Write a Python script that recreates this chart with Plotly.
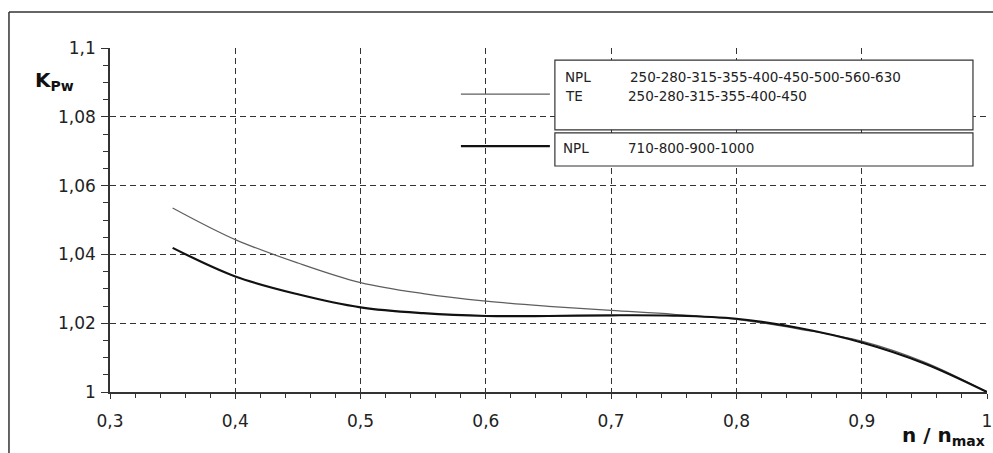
import plotly.graph_objects as go

# ---- data ----
n_ratio = [0.35, 0.40, 0.45, 0.50, 0.55, 0.60, 0.65, 0.70, 0.75, 0.80, 0.85, 0.90, 0.95, 1.00]
k_small = [1.0535, 1.0443, 1.0375, 1.0318, 1.0286, 1.0264, 1.0249, 1.0237, 1.0226, 1.0211, 1.0183, 1.0148, 1.0087, 1.0]
k_large = [1.0419, 1.0336, 1.0284, 1.0246, 1.0229, 1.0221, 1.0221, 1.0223, 1.0222, 1.0213, 1.0186, 1.0144, 1.0083, 1.0]

x_tickvals = [0.3, 0.4, 0.5, 0.6, 0.7, 0.8, 0.9, 1.0]
x_ticktext = ["0,3", "0,4", "0,5", "0,6", "0,7", "0,8", "0,9", "1"]
y_tickvals = [1.0, 1.02, 1.04, 1.06, 1.08, 1.1]
y_ticktext = ["1", "1,02", "1,04", "1,06", "1,08", "1,1"]

legend_small_type = ["NPL", "TE"]
legend_small_sizes = ["250-280-315-355-400-450-500-560-630", "250-280-315-355-400-450"]
legend_large_type = ["NPL"]
legend_large_sizes = ["710-800-900-1000"]

FONT = "DejaVu Sans"

fig = go.Figure()
fig.add_trace(go.Scatter(x=n_ratio, y=k_small, mode="lines",
                         line=dict(color="#5e5e5e", width=1.2, shape="spline", smoothing=1.0),
                         showlegend=False, hoverinfo="skip"))
fig.add_trace(go.Scatter(x=n_ratio, y=k_large, mode="lines",
                         line=dict(color="#111111", width=2.2, shape="spline", smoothing=1.0),
                         showlegend=False, hoverinfo="skip"))

shapes = []
# outer frame (left and top)
shapes.append(dict(type="line", xref="paper", yref="paper", x0=-0.1152, x1=-0.1152, y0=1.1047, y1=-0.2,
                   line=dict(color="#333", width=1.5)))
shapes.append(dict(type="line", xref="paper", yref="paper", x0=-0.1152, x1=1.02, y0=1.1047, y1=1.1047,
                   line=dict(color="#333", width=1.5)))
# legend boxes
shapes.append(dict(type="rect", xref="x", yref="y", x0=0.6551, x1=0.9888, y0=1.0762, y1=1.0965,
                   line=dict(color="#333", width=1.2), fillcolor="white", layer="above"))
shapes.append(dict(type="rect", xref="x", yref="y", x0=0.6551, x1=0.9888, y0=1.0657, y1=1.0753,
                   line=dict(color="#333", width=1.2), fillcolor="white", layer="above"))
# legend sample lines
shapes.append(dict(type="line", xref="x", yref="y", x0=0.5801, x1=0.6511, y0=1.0866, y1=1.0866,
                   line=dict(color="#5e5e5e", width=1.2)))
shapes.append(dict(type="line", xref="x", yref="y", x0=0.5801, x1=0.6511, y0=1.0715, y1=1.0715,
                   line=dict(color="#111111", width=2.2)))

annotations = []
leg_font = dict(family=FONT, size=13.5, color="#222")
for i, (t, s) in enumerate(zip(legend_small_type, legend_small_sizes)):
    yy = [1.0916, 1.0860][i]
    annotations.append(dict(x=0.6615, y=yy, xref="x", yref="y", text=t, showarrow=False,
                            xanchor="left", yanchor="middle", font=leg_font))
    annotations.append(dict(x=0.7134 - 0.0016 * i, y=yy, xref="x", yref="y", text=s, showarrow=False,
                            xanchor="left", yanchor="middle", font=leg_font))
for t, s in zip(legend_large_type, legend_large_sizes):
    annotations.append(dict(x=0.6615 - 0.0016, y=1.0709, xref="x", yref="y", text=t, showarrow=False,
                            xanchor="left", yanchor="middle", font=leg_font))
    annotations.append(dict(x=0.7118, y=1.0709, xref="x", yref="y", text=s, showarrow=False,
                            xanchor="left", yanchor="middle", font=leg_font))
# axis titles
annotations.append(dict(x=-0.088, y=0.905, xref="paper", yref="paper", text="<b>K<sub>Pw</sub></b>",
                        showarrow=False, xanchor="left", yanchor="middle",
                        font=dict(family=FONT, size=20, color="#111")))
annotations.append(dict(x=1.0, y=-0.172, xref="paper", yref="paper", text="<b>n / n<sub>max</sub></b>",
                        showarrow=False, xanchor="right", yanchor="bottom",
                        font=dict(family=FONT, size=20, color="#111")))

grid_common = dict(showgrid=True, gridcolor="#333", gridwidth=1, griddash="6px,4px",
                   showline=True, linecolor="#333", linewidth=1.6, zeroline=False, automargin=False,
                   tickcolor="#333", tickfont=dict(family=FONT, size=17, color="#222"))

fig.update_layout(
    width=993, height=453,
    margin=dict(l=110, r=6, t=48, b=61),
    paper_bgcolor="white", plot_bgcolor="white",
    xaxis=dict(range=[0.3, 1.0], tickmode="array", tickvals=x_tickvals, ticktext=x_ticktext,
               ticks="outside", ticklen=5, tickwidth=1.2, ticklabelstandoff=8,
               minor=dict(ticks="outside", ticklen=4, dtick=0.02, tick0=0.3, tickcolor="#333", showgrid=False),
               **grid_common),
    yaxis=dict(range=[1.0, 1.1], tickmode="array", tickvals=y_tickvals, ticktext=y_ticktext,
               ticks="outside", ticklen=7, tickwidth=1.2, ticklabelstandoff=2,
               minor=dict(ticks="outside", ticklen=5, dtick=0.005, tick0=1.0, tickcolor="#333", showgrid=False),
               **grid_common),
    shapes=shapes, annotations=annotations,
)

fig.write_html("out.html", config={"displayModeBar": False},
               post_script="document.body.style.margin='0';document.body.style.overflow='hidden';")
